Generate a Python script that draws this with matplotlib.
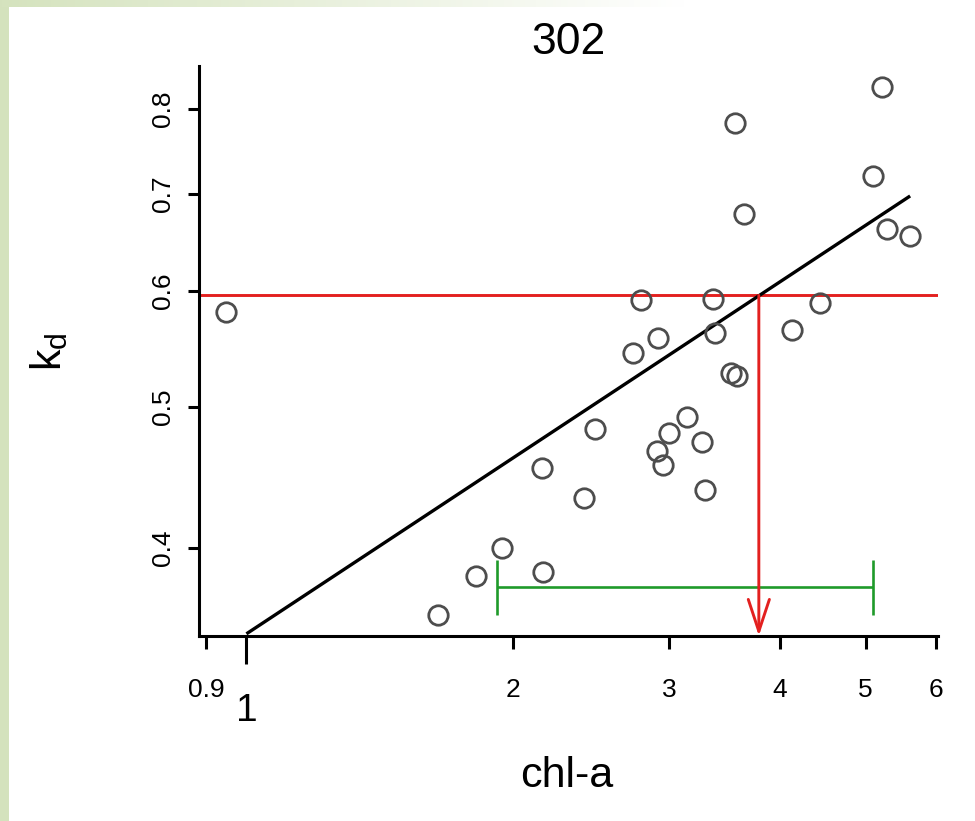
import numpy as np
import matplotlib
matplotlib.use("Agg")
import matplotlib.pyplot as plt
from matplotlib.transforms import blended_transform_factory

plt.rcParams['font.family'] = ['Liberation Sans', 'DejaVu Sans']
plt.rcParams['mathtext.default'] = 'regular'

# ---- data ----
chl = [0.948, 1.646, 1.818, 1.941, 2.161, 2.154, 2.404, 2.474, 2.729, 2.786,
       2.916, 2.909, 2.954, 2.996, 3.145, 3.265, 3.293, 3.359, 3.379, 3.520,
       3.576, 3.560, 3.644, 4.125, 4.441, 5.093, 5.212, 5.289, 5.611]
kd = [0.581, 0.360, 0.383, 0.400, 0.385, 0.454, 0.433, 0.483, 0.544, 0.592,
      0.557, 0.466, 0.456, 0.480, 0.492, 0.473, 0.4385, 0.593, 0.562, 0.527,
      0.525, 0.783, 0.678, 0.564, 0.589, 0.720, 0.828, 0.662, 0.655]
fit_chl = [1.0, 5.611]
fit_kd = [0.3494, 0.6973]
target_kd = 0.596
target_chl = 3.787
ci_chl = [1.916, 5.100]
ci_kd = 0.376
xtick_vals = [0.9, 1, 2, 3, 4, 5, 6]
xtick_labels = ['0.9', '', '2', '3', '4', '5', '6']
ytick_vals = [0.4, 0.5, 0.6, 0.7, 0.8]
ytick_labels = ['0.4', '0.5', '0.6', '0.7', '0.8']
title = '302'

W, H = 975, 821
fig = plt.figure(figsize=(W / 100, H / 100), dpi=100)
fig.patch.set_facecolor('white')

# decorative green frame (left strip + top gradient)
green_rgb = np.array([0.835, 0.890, 0.745])
bg = fig.add_axes([0, 0, 9 / W, 1])
bg.set_axis_off()
bg.imshow(np.tile(green_rgb, (2, 2, 1)), aspect='auto', extent=[0, 1, 0, 1])
top = fig.add_axes([0, 1 - 7 / H, 1, 7 / H])
top.set_axis_off()
t = np.clip(np.linspace(0, 1, 400) / 0.7, 0, 1)[None, :, None]
grad = green_rgb[None, None, :] * (1 - t) + np.ones(3)[None, None, :] * t
top.imshow(np.repeat(grad, 2, axis=0), aspect='auto', extent=[0, 1, 0, 1])

# plot region (pixels measured on the reference)
left_px, right_px, top_px, bot_px = 198.5, 937.5, 66, 636
ax = fig.add_axes([left_px / W, 1 - bot_px / H, (right_px - left_px) / W, (bot_px - top_px) / H])
ax.set_xscale('log')
ax.set_yscale('log')

def r_lim(v):
    lv = np.log10(v)
    pad = 0.04 * (lv.max() - lv.min())
    return 10 ** (lv.min() - pad), 10 ** (lv.max() + pad)

xlim = r_lim(np.array(chl))
ylim = r_lim(np.array(kd))
ax.set_xlim(*xlim)
ax.set_ylim(*ylim)

red = '#e3201f'
green = '#1f9a2a'

# fitted line
ax.plot(fit_chl, fit_kd, color='black', lw=2.4, zorder=3, solid_capstyle='butt')
# horizontal target line
ax.axhline(target_kd, color=red, lw=2.1, zorder=2)
# vertical arrow down to axis
ax.annotate('', xy=(target_chl, ylim[0]), xytext=(target_chl, target_kd),
            arrowprops=dict(arrowstyle='->,head_length=1.15,head_width=0.38',
                            color=red, lw=2.1, shrinkA=0, shrinkB=0,
                            mutation_scale=20), zorder=4, annotation_clip=False)
# green interval
ax.errorbar([target_chl], [ci_kd],
            xerr=[[target_chl - ci_chl[0]], [ci_chl[1] - target_chl]],
            fmt='none', ecolor=green, elinewidth=1.9, capsize=19.8, capthick=1.9, zorder=3)
# points
ax.plot(chl, kd, linestyle='none', marker='o', markersize=14, markerfacecolor='none',
        markeredgecolor='#4d4d4d', markeredgewidth=2.0, zorder=5)

# axes styling (R bty="l")
for s in ['top', 'right']:
    ax.spines[s].set_visible(False)
for s in ['left', 'bottom']:
    ax.spines[s].set_linewidth(2.2)
    ax.spines[s].set_color('black')
    ax.spines[s].set_capstyle('projecting')

ax.minorticks_off()
ax.set_xticks(xtick_vals)
ax.set_xticklabels(xtick_labels)
ax.set_yticks(ytick_vals)
ax.set_yticklabels(ytick_labels)
ax.tick_params(axis='x', length=9.5, width=2.2, labelsize=19, pad=21, colors='black')
ax.tick_params(axis='y', length=8, width=2.2, labelsize=19, pad=9, colors='black')
for lab in ax.get_yticklabels():
    lab.set_rotation(90)
    lab.set_va('center')
    lab.set_ha('right')

# the longer "1" tick and its larger label
one_tick = ax.xaxis.get_major_ticks()[1]
one_tick.tick1line.set_markersize(20)
trans = blended_transform_factory(ax.transData, fig.transFigure)
ax.text(1, 1 - 711 / H, '1', transform=trans, ha='center', va='center',
        fontsize=28, color='black')

# titles
fig.text(568 / W, 1 - 42 / H, title, ha='center', va='center', fontsize=32)
fig.text(567 / W, 1 - 776 / H, 'chl-a', ha='center', va='center', fontsize=31)
fig.text(49 / W, 1 - 352 / H, '$k_d$', ha='center', va='center', fontsize=31, rotation=90)

fig.savefig('out.png', dpi=100, facecolor='white')
